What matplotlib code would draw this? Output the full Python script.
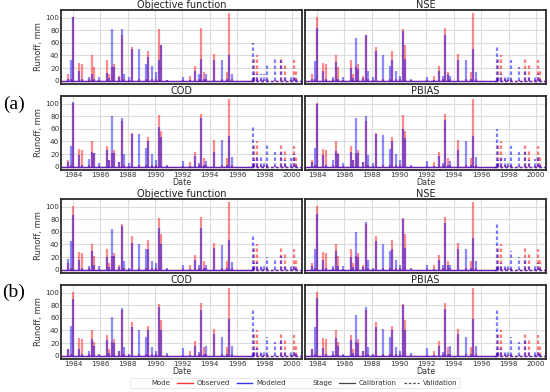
import matplotlib
matplotlib.use("Agg")
import matplotlib.pyplot as plt
from matplotlib.lines import Line2D
import numpy as np

# ---------------- data ----------------
record_start = 1983.2
record_end = 2000.7
validation_start = 1997.0

event_dates = [1983.61, 1983.83, 1983.98, 1984.44, 1984.63, 1985.17, 1985.36, 1985.53, 1985.92,
               1986.52, 1986.62, 1986.89, 1987.01, 1987.33, 1987.57, 1987.74, 1988.10, 1988.34,
               1988.83, 1989.36, 1989.51, 1989.80, 1990.04, 1990.28, 1990.45, 1990.89, 1992.03,
               1992.56, 1992.95, 1993.19, 1993.36, 1993.55, 1993.72, 1994.33, 1994.89, 1995.25,
               1995.42, 1995.59, 1997.12, 1997.24, 1997.41, 1997.72, 1997.97, 1998.16, 1998.77,
               1999.23, 1999.47, 1999.91, 2000.17, 2000.27]

observed = [10, 3, 102, 28, 27, 2, 40, 22, 1, 33, 11, 22, 27, 8, 72, 2, 1, 54, 2, 3, 47, 3, 2, 83, 57,
            1, 1, 8, 23, 3, 84, 14, 2, 43, 2, 13, 108, 2, 4, 35, 40, 2, 1, 2, 1, 37, 28, 1, 33, 18]

modeled_a_objective = [3, 33, 102, 16, 2, 5, 10, 2, 6, 12, 4, 82, 22, 5, 82, 10, 5, 50, 50, 26, 38, 24,
                       14, 33, 57, 1, 5, 1, 15, 10, 34, 3, 10, 33, 33, 2, 40, 11, 60, 10, 10, 10, 10, 27,
                       35, 33, 5, 5, 5, 2]
modeled_a_nse = [3, 31, 84, 15, 2, 5, 30, 3, 5, 20, 4, 68, 18, 4, 73, 16, 5, 47, 40, 24, 33, 16, 8, 79,
                 35, 2, 6, 1, 16, 8, 73, 10, 8, 33, 32, 2, 50, 13, 57, 8, 10, 5, 5, 33, 22, 16, 5, 8,
                 10, 3]
modeled_a_cod = [8, 32, 103, 18, 2, 12, 23, 22, 5, 26, 11, 80, 22, 7, 78, 20, 5, 52, 52, 30, 40, 20, 10,
                 63, 47, 2, 9, 1, 17, 5, 77, 3, 9, 24, 42, 2, 49, 16, 65, 10, 15, 15, 7, 35, 23, 24, 10,
                 13, 20, 3]
modeled_a_pbias = [8, 30, 100, 18, 2, 10, 25, 20, 5, 24, 10, 78, 22, 7, 80, 18, 5, 52, 50, 28, 40, 20,
                   10, 60, 45, 2, 9, 1, 17, 5, 75, 3, 9, 26, 40, 2, 48, 15, 60, 10, 14, 14, 7, 33, 23,
                   24, 10, 12, 18, 3]
modeled_b_objective = [17, 45, 87, 16, 2, 5, 29, 8, 5, 20, 4, 64, 22, 4, 70, 14, 3, 43, 40, 32, 33, 14,
                       10, 67, 41, 2, 8, 1, 15, 8, 67, 3, 8, 34, 39, 2, 47, 12, 55, 10, 12, 5, 5, 20, 18,
                       22, 5, 5, 5, 2]
modeled_b_nse = [5, 33, 88, 16, 2, 5, 30, 5, 5, 20, 4, 60, 20, 4, 76, 15, 3, 45, 40, 30, 33, 15, 8, 80,
                 35, 2, 7, 1, 16, 8, 75, 8, 8, 33, 32, 2, 50, 13, 72, 8, 10, 5, 5, 30, 20, 18, 5, 8,
                 10, 3]
modeled_b_cod = [10, 47, 90, 10, 2, 8, 27, 15, 3, 25, 4, 62, 20, 8, 76, 14, 3, 45, 41, 29, 41, 13, 8, 78,
                 41, 4, 12, 1, 16, 5, 72, 3, 15, 34, 30, 2, 59, 15, 74, 10, 12, 5, 5, 30, 22, 25, 5, 8,
                 5, 2]
modeled_b_pbias = [10, 45, 92, 12, 2, 8, 28, 15, 3, 25, 4, 65, 20, 8, 78, 14, 3, 46, 42, 30, 40, 13, 8,
                   80, 40, 4, 12, 1, 16, 5, 75, 3, 15, 34, 30, 2, 58, 15, 75, 10, 12, 5, 5, 30, 22, 25,
                   5, 8, 5, 2]

panel_titles = ["Objective function", "NSE", "COD", "PBIAS"]
year_ticks = [1984, 1986, 1988, 1990, 1992, 1994, 1996, 1998, 2000]
runoff_ticks = [0, 20, 40, 60, 80, 100]

groups = {
    "(a)": [modeled_a_objective, modeled_a_nse, modeled_a_cod, modeled_a_pbias],
    "(b)": [modeled_b_objective, modeled_b_nse, modeled_b_cod, modeled_b_pbias],
}

# ---------------- style ----------------
plt.rcParams['font.family'] = ['DejaVu Sans']
RED = "#ff0000"
BLUE = "#0000ff"
DASH = (0, (1.6, 1.1))

W, H = 550, 392
fig = plt.figure(figsize=(W / 100, H / 100), dpi=100)

col_x = [61, 305]
col_w = 241
row_top = [10, 96, 199, 285]
row_h = 74


def add_axes(px_left, px_top, pw, ph):
    return fig.add_axes([px_left / W, 1 - (px_top + ph) / H, pw / W, ph / H])


dates = np.array(event_dates)
obs = np.array(observed, dtype=float)
cal = dates < validation_start
val = ~cal


def draw_series(ax, vals, color):
    vals = np.asarray(vals, dtype=float)
    ax.vlines(dates[cal], 0, vals[cal], colors=color, lw=1.6, alpha=0.45, zorder=3)
    ax.vlines(dates[val], 0, vals[val], colors=color, lw=1.6, alpha=0.5,
              linestyles=[DASH], zorder=3)
    ax.plot([record_start, validation_start], [0, 0], color=color, lw=1.0, alpha=0.6, zorder=3)
    ax.plot([validation_start, record_end], [0, 0], color=color, lw=1.0, alpha=0.6,
            ls=(0, (2, 1.5)), zorder=3)


for g, (label, mods) in enumerate(groups.items()):
    for k in range(4):
        r = 2 * g + k // 2
        c = k % 2
        ax = add_axes(col_x[c], row_top[r], col_w, row_h)
        draw_series(ax, obs, RED)
        draw_series(ax, mods[k], BLUE)
        ax.set_xlim(1983.13, 2000.73)
        ax.set_ylim(-5.5, 112.5)
        ax.set_xticks(year_ticks)
        ax.set_yticks(runoff_ticks)
        ax.grid(True, color="#dcdcdc", lw=0.8, zorder=0)
        ax.set_axisbelow(True)
        ax.tick_params(length=0, pad=1.2, labelsize=5.2, colors="#333333")
        for s in ax.spines.values():
            s.set_color("#2a2a2a")
            s.set_linewidth(1.3)
        ax.set_title(panel_titles[k], fontsize=7, pad=1.5, color="#222222")
        if c == 0:
            ax.set_ylabel("Runoff, mm", fontsize=6, labelpad=2, color="#333333")
        else:
            ax.tick_params(labelleft=False)
        if r % 2 == 1:
            ax.set_xlabel("Date", fontsize=5.8, labelpad=0, color="#333333")
        else:
            ax.tick_params(labelbottom=False)
    fig.text(14 / W, 1 - (104 if g == 0 else 292) / H, label, fontsize=14,
             family=["Liberation Serif"], ha="center", va="center")

# legend
blank = Line2D([], [], color="none")
handles = [blank,
           Line2D([], [], color=RED, lw=1.0, alpha=0.8),
           Line2D([], [], color=BLUE, lw=1.0, alpha=0.8),
           blank,
           Line2D([], [], color="#444444", lw=0.9),
           Line2D([], [], color="#444444", lw=0.9, ls=(0, (2, 1.5)))]
labels = ["Mode", "Observed", "Modeled", "Stage", "Calibration", "Validation"]
leg = fig.legend(handles, labels, loc="center", bbox_to_anchor=(295 / W, 1 - 383 / H),
                 ncol=6, fontsize=5, frameon=True, handlelength=2.2, columnspacing=1.0,
                 handletextpad=0.6, borderpad=0.35, fancybox=True)
leg.get_frame().set_edgecolor("#dddddd")
leg.get_frame().set_linewidth(0.6)
for t in leg.get_texts():
    t.set_color("#333333")

fig.savefig("out.png", dpi=100)
